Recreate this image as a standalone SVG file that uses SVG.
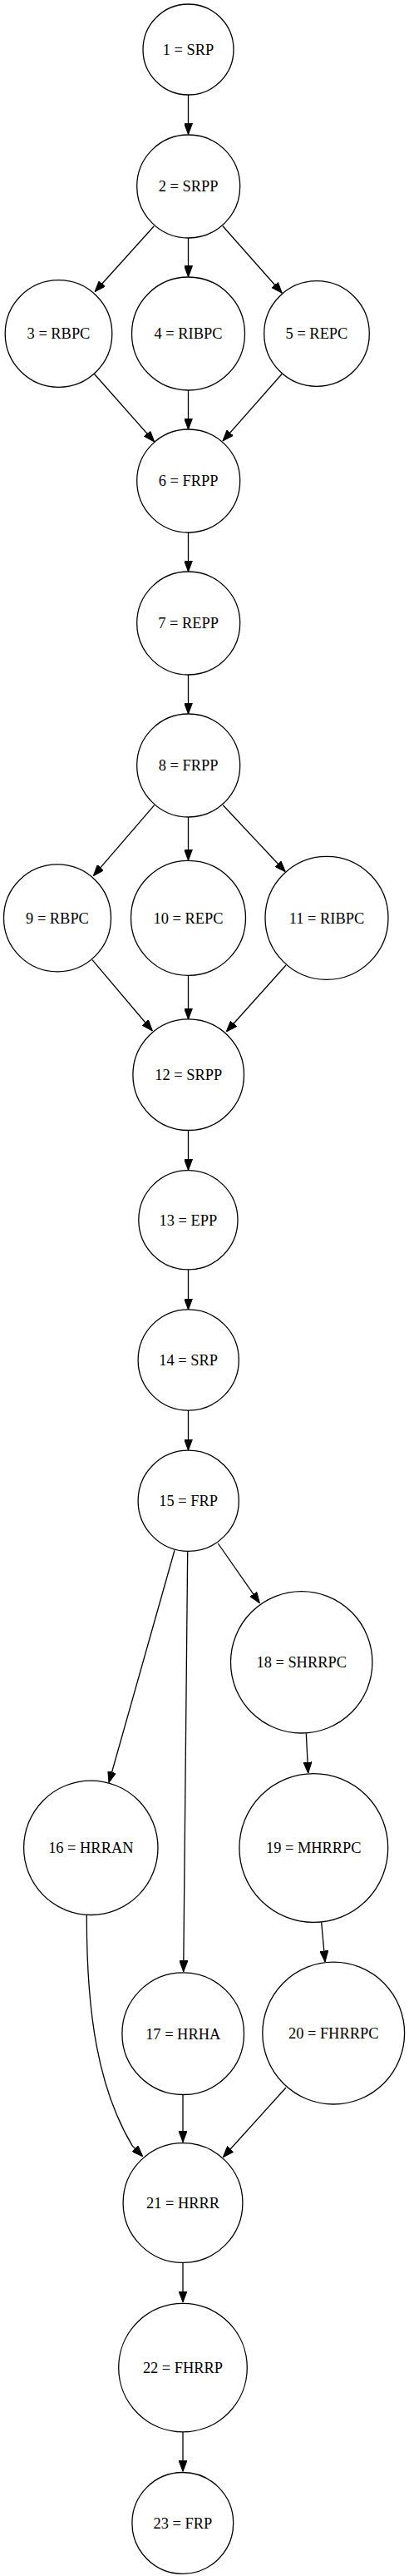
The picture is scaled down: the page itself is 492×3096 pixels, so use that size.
<svg xmlns="http://www.w3.org/2000/svg" width="492" height="3096" viewBox="0 0 492 3096">
<style>
.n circle{fill:#fff;stroke:#000;stroke-width:1.3}
.n text{font-family:"Liberation Serif","Times New Roman",serif;font-size:18.4px;text-anchor:middle;fill:#000}
.e path{fill:none;stroke:#000;stroke-width:1.3;marker-end:url(#ah)}
</style>
<defs>
<marker id="ah" markerUnits="userSpaceOnUse" viewBox="0 0 13.3 10" markerWidth="13.3" markerHeight="10" refX="13.3" refY="5" orient="auto">
<path d="M0,0 L13.3,5 L0,10 z" fill="#000" stroke="#000" stroke-width="1"/>
</marker>
</defs>
<rect width="492" height="3096" fill="#fff"/>
<g id="edges" class="e">
<path d="M226.5,114 L226.5,161.5"/>
<path d="M185.3,271.7 L114,350.7"/>
<path d="M226.5,286 L226.5,332.7"/>
<path d="M268,271.7 L339.3,352.3"/>
<path d="M113.3,449.3 L185.7,531"/>
<path d="M226.5,469 L226.5,516"/>
<path d="M339.3,449.3 L268,530"/>
<path d="M226.5,640 L226.5,687"/>
<path d="M226.5,811 L226.5,858"/>
<path d="M185.7,967.7 L112.3,1052.7"/>
<path d="M226.5,982 L226.5,1034"/>
<path d="M268.3,967.7 L343.3,1047.7"/>
<path d="M111,1153.7 L183.3,1239"/>
<path d="M226.5,1173 L226.5,1225"/>
<path d="M344,1160 L272.3,1240"/>
<path d="M226.5,1358.5 L226.5,1406.5"/>
<path d="M226.5,1526 L226.5,1574"/>
<path d="M226.5,1695 L226.5,1743"/>
<path d="M210,1863.3 L131,2142.5"/>
<path d="M225.7,1864.5 L220.7,2369.7"/>
<path d="M262.3,1855 L312.3,1926.7"/>
<path d="M368.3,2083.3 L370.7,2131"/>
<path d="M386.7,2310.5 L391,2357.9"/>
<path d="M104.3,2302 C104,2420 118,2510 159.3,2579.2 L171.7,2591.7"/>
<path d="M220,2517.6 L220,2574.6"/>
<path d="M344,2509 L268.3,2592.7"/>
<path d="M220,2719.5 L220,2767"/>
<path d="M220,2923 L220,2970.5"/>
</g>
<g id="n1" class="n"><circle cx="226.5" cy="59.5" r="54.5"/><text x="226.5" y="65.8">1 = SRP</text></g>
<g id="n2" class="n"><circle cx="226.7" cy="224" r="62"/><text x="226.7" y="230.3">2 = SRPP</text></g>
<g id="n3" class="n"><circle cx="70.5" cy="401" r="64.3"/><text x="70.5" y="407.3">3 = RBPC</text></g>
<g id="n4" class="n"><circle cx="226.5" cy="401" r="68"/><text x="226.5" y="407.3">4 = RIBPC</text></g>
<g id="n5" class="n"><circle cx="381" cy="401" r="63.3"/><text x="381" y="407.3">5 = REPC</text></g>
<g id="n6" class="n"><circle cx="226.7" cy="578" r="62"/><text x="226.7" y="584.3">6 = FRPP</text></g>
<g id="n7" class="n"><circle cx="226.7" cy="749" r="62"/><text x="226.7" y="755.3">7 = REPP</text></g>
<g id="n8" class="n"><circle cx="226.7" cy="920" r="62"/><text x="226.7" y="926.3">8 = FRPP</text></g>
<g id="n9" class="n"><circle cx="69" cy="1103.3" r="64.5"/><text x="69" y="1109.6">9 = RBPC</text></g>
<g id="n10" class="n"><circle cx="226.5" cy="1103.3" r="69"/><text x="226.5" y="1109.6">10 = REPC</text></g>
<g id="n11" class="n"><circle cx="393" cy="1103.3" r="74"/><text x="393" y="1109.6">11 = RIBPC</text></g>
<g id="n12" class="n"><circle cx="226.7" cy="1291.7" r="66.8"/><text x="226.7" y="1298">12 = SRPP</text></g>
<g id="n13" class="n"><circle cx="226.4" cy="1466.3" r="59.6"/><text x="226.4" y="1472.6">13 = EPP</text></g>
<g id="n14" class="n"><circle cx="226.7" cy="1634.5" r="60.6"/><text x="226.7" y="1640.8">14 = SRP</text></g>
<g id="n15" class="n"><circle cx="226.7" cy="1803.8" r="60.6"/><text x="226.7" y="1810.1">15 = FRP</text></g>
<g id="n16" class="n"><circle cx="109.3" cy="2220.8" r="80.7"/><text x="109.3" y="2227.1">16 = HRRAN</text></g>
<g id="n17" class="n"><circle cx="220.2" cy="2444.2" r="73.3"/><text x="220.2" y="2450.5">17 = HRHA</text></g>
<g id="n18" class="n"><circle cx="362.7" cy="1997.8" r="85.2"/><text x="362.7" y="2004.1">18 = SHRRPC</text></g>
<g id="n19" class="n"><circle cx="377.3" cy="2221" r="89.4"/><text x="377.3" y="2227.3">19 = MHRRPC</text></g>
<g id="n20" class="n"><circle cx="401.2" cy="2443.6" r="85.4"/><text x="401.2" y="2449.9">20 = FHRRPC</text></g>
<g id="n21" class="n"><circle cx="220" cy="2647.5" r="71.9"/><text x="220" y="2653.8">21 = HRRR</text></g>
<g id="n22" class="n"><circle cx="220" cy="2845.6" r="77.3"/><text x="220" y="2851.9">22 = FHRRP</text></g>
<g id="n23" class="n"><circle cx="219.8" cy="3032.4" r="60.9"/><text x="219.8" y="3038.7">23 = FRP</text></g>
</svg>
